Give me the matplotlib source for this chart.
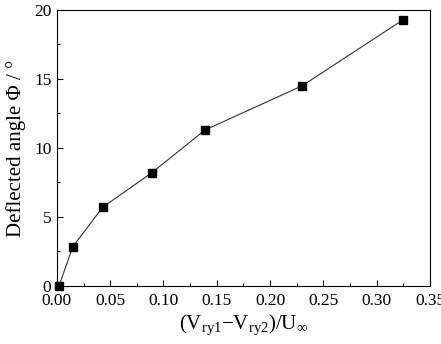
import matplotlib
matplotlib.use("Agg")
import matplotlib.pyplot as plt
from matplotlib.ticker import MultipleLocator

# data
ratio = [0.002, 0.015, 0.043, 0.089, 0.139, 0.230, 0.325]
angle = [0.0, 2.85, 5.7, 8.2, 11.3, 14.5, 19.3]

plt.rcParams["font.family"] = "Liberation Serif"
plt.rcParams["mathtext.fontset"] = "custom"
plt.rcParams["mathtext.rm"] = "Liberation Serif"
plt.rcParams["mathtext.it"] = "Liberation Serif:italic"
plt.rcParams["mathtext.cal"] = "Liberation Serif"

fig = plt.figure(figsize=(4.41, 3.44), dpi=100, facecolor="white")
ax = fig.add_axes([0.129, 0.169, 0.846, 0.802])

ax.plot(ratio, angle, color="#333333", linewidth=0.8,
        marker="s", markersize=6, markerfacecolor="black", markeredgecolor="black",
        clip_on=False, zorder=3)

ax.set_xlim(0, 0.35)
ax.set_ylim(0, 20)
ax.xaxis.set_major_locator(MultipleLocator(0.05))
ax.xaxis.set_minor_locator(MultipleLocator(0.025))
ax.yaxis.set_major_locator(MultipleLocator(5))
ax.yaxis.set_minor_locator(MultipleLocator(2.5))
ax.tick_params(which="both", direction="in", labelsize=12.5, width=0.8)
ax.tick_params(which="major", length=4)
ax.tick_params(which="minor", length=2.5)
ax.tick_params(axis="x", pad=5)
ax.tick_params(axis="y", pad=4)
ax.set_xticklabels([f"{v:.2f}" for v in ax.get_xticks()])
for s in ax.spines.values():
    s.set_linewidth(0.8)

ax.set_ylabel("Deflected angle \u03a6 / \u00b0", fontsize=15, labelpad=6)
ax.set_xlabel(r"(V$_{\mathrm{ry1}}$$-$V$_{\mathrm{ry2}}$)/U$_{\infty}$", fontsize=15, labelpad=3)

fig.savefig("out.png", dpi=100, facecolor="white")
